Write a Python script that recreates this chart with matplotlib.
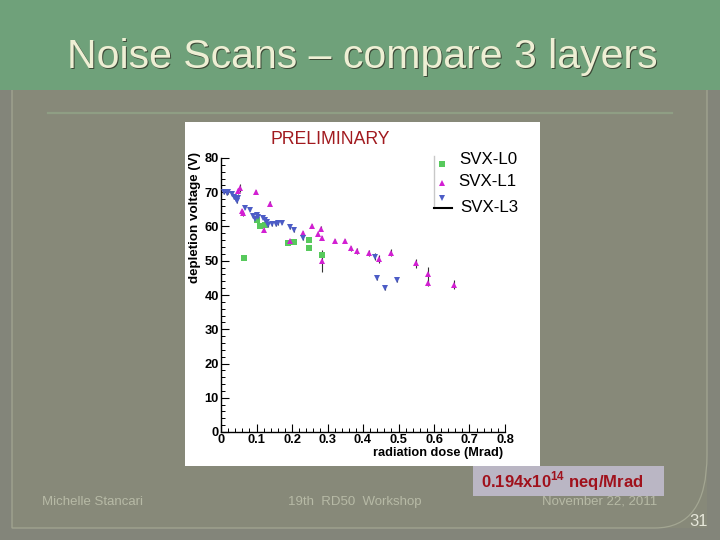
import matplotlib
matplotlib.use("Agg")
import matplotlib.pyplot as plt
from matplotlib import font_manager
from matplotlib.patches import Rectangle, PathPatch
from matplotlib.lines import Line2D
from matplotlib.path import Path
from matplotlib.ticker import MultipleLocator

# ---------------- data ----------------
l0_dose = [0.065, 0.100, 0.110, 0.125, 0.188, 0.206, 0.249, 0.249, 0.285]
l0_volt = [50.7, 62.0, 60.0, 60.5, 55.1, 55.4, 56.0, 53.6, 51.8]
l0_err = [0.5, 0.5, 0.5, 0.5, 0.5, 0.5, 0.5, 0.5, 0.6]

l1_dose = [0.049, 0.054, 0.058, 0.063, 0.099, 0.121, 0.138, 0.194, 0.232, 0.255,
           0.274, 0.283, 0.284, 0.285, 0.321, 0.349, 0.365, 0.382, 0.417, 0.445,
           0.478, 0.548, 0.582, 0.582, 0.656]
l1_volt = [70.3, 71.3, 64.5, 63.8, 70.1, 58.9, 66.7, 55.8, 58.0, 60.1,
           57.7, 59.4, 56.7, 49.9, 55.8, 55.8, 53.6, 52.9, 52.3, 50.6,
           52.4, 49.2, 46.1, 43.5, 43.0]
l1_err = [0.8, 1.2, 0.6, 0.6, 0.6, 0.6, 0.6, 0.6, 0.6, 0.6,
          0.6, 0.6, 0.6, 3.1, 0.6, 0.6, 0.8, 0.8, 0.8, 1.2,
          1.0, 1.2, 2.2, 1.0, 1.3]

l3_dose = [0.009, 0.016, 0.020, 0.030, 0.037, 0.041, 0.044, 0.049, 0.068, 0.082,
           0.091, 0.096, 0.100, 0.105, 0.119, 0.124, 0.129, 0.133, 0.145, 0.154,
           0.161, 0.171, 0.194, 0.207, 0.232, 0.434, 0.439, 0.462, 0.497]
l3_volt = [70.1, 69.8, 70.1, 69.4, 68.6, 68.0, 67.5, 68.4, 65.5, 64.9,
           63.0, 62.3, 63.3, 62.8, 62.6, 61.8, 61.4, 60.4, 60.7, 60.7,
           60.9, 61.1, 59.9, 58.9, 56.5, 51.2, 44.9, 41.9, 44.4]
l3_err = [0.5] * 25 + [1.0, 0.5, 0.5, 0.5]

series_names = ["SVX-L0", "SVX-L1", "SVX-L3"]
x_ticks = [0, 0.1, 0.2, 0.3, 0.4, 0.5, 0.6, 0.7, 0.8]
y_ticks = [0, 10, 20, 30, 40, 50, 60, 70, 80]

# ---------------- fonts ----------------
plt.rcParams['font.family'] = ['Liberation Sans', 'DejaVu Sans']

W, H = 720, 540
fig = plt.figure(figsize=(7.2, 5.4), dpi=100)
fig.patch.set_facecolor('#83857a')

def fx(px):
    return px / W

def fy(py):
    return 1 - py / H

def frect(x0, y0, x1, y1, **kw):
    r = Rectangle((fx(x0), fy(y1)), fx(x1) - fx(x0), fy(y0) - fy(y1),
                  transform=fig.transFigure, **kw)
    fig.add_artist(r)
    return r

def fline(xs, ys, **kw):
    fig.add_artist(Line2D([fx(v) for v in xs], [fy(v) for v in ys],
                          transform=fig.transFigure, **kw))

# slide body and header
frect(12, 90, 707, 528, facecolor='#878979', edgecolor='none', zorder=0)
frect(0, 0, 720, 90, facecolor='#6fa17a', edgecolor='none', zorder=0)

# frame with rounded bottom-right corner
verts = [(fx(12), fy(90)), (fx(12), fy(528)), (fx(655), fy(528)),
         (fx(707), fy(528)), (fx(707), fy(455)), (fx(707), fy(90))]
codes = [Path.MOVETO, Path.LINETO, Path.LINETO, Path.CURVE3, Path.CURVE3, Path.LINETO]
fig.add_artist(PathPatch(Path(verts, codes), transform=fig.transFigure,
                         facecolor='none', edgecolor='#a3a692', lw=0.9, zorder=1))

# separator line under header
fline([48, 672], [113, 113], color='#8f9e84', lw=1.6, zorder=1)

# title with shadow
title = "Noise Scans \u2013 compare 3 layers"
fig.text(fx(363.5), fy(69), title, fontsize=29.5, color='#3d4a38',
         ha='center', va='baseline', zorder=2)
fig.text(fx(362), fy(67.5), title, fontsize=29.5, color='#eeefd4',
         ha='center', va='baseline', zorder=3)

# chart white picture
frect(185, 122, 540, 466, facecolor='white', edgecolor='none', zorder=1)

# ---------------- axes ----------------
ax = fig.add_axes([fx(221), fy(432), fx(505) - fx(221), fy(158) - fy(432)])
ax.set_facecolor('none')
ax.set_zorder(5)
ax.set_xlim(0, 0.8)
ax.set_ylim(0, 80)
for s in ['top', 'right']:
    ax.spines[s].set_visible(False)
for s in ['left', 'bottom']:
    ax.spines[s].set_linewidth(1.0)
    ax.spines[s].set_color('black')
ax.set_xticks(x_ticks)
ax.set_yticks(y_ticks)
ax.set_xticklabels([f"{v:g}" for v in x_ticks])
ax.set_yticklabels([f"{v:g}" for v in y_ticks])
ax.xaxis.set_minor_locator(MultipleLocator(0.02))
ax.yaxis.set_minor_locator(MultipleLocator(2))
ax.tick_params(which='major', direction='in', length=5.5, width=0.8, labelsize=9.3, pad=1.5)
ax.tick_params(which='minor', direction='in', length=2.8, width=0.7)
for lab in ax.get_xticklabels() + ax.get_yticklabels():
    lab.set_fontweight('bold')

colors = ['#57c95c', '#d21fd2', '#4c5cc6']
markers = ['s', '^', 'v']
data = [(l0_dose, l0_volt, l0_err), (l1_dose, l1_volt, l1_err), (l3_dose, l3_volt, l3_err)]
for (xs, ys, es), c, m in zip(data, colors, markers):
    ax.errorbar(xs, ys, yerr=es, fmt='none', ecolor='#333333', elinewidth=0.8, capsize=0, zorder=2)
for (xs, ys, es), c, m in zip(data, colors, markers):
    ax.plot(xs, ys, linestyle='none', marker=m, markersize=5.0, color=c,
            markeredgewidth=0, zorder=3)

fig.text(fx(195), fy(152), "depletion voltage (V)", rotation=90, fontsize=9.6,
         fontweight='bold', ha='center', va='top', zorder=6)
fig.text(fx(503), fy(453), "radiation dose (Mrad)", fontsize=9.2,
         fontweight='bold', ha='right', va='center', zorder=6)

fig.text(fx(330), fy(140), "PRELIMINARY", fontsize=12.7, color='#a11a1f',
         ha='center', va='center', zorder=6)

# legend
fline([434, 434], [156, 208], color='#c8c8c8', lw=1.0, zorder=6)
fline([434, 452], [208, 208], color='black', lw=1.5, zorder=6)
leg_y_mark = [164, 183, 198]
leg_y_text = [159, 182, 207]
leg_x_text = [459, 458, 460]
for name, c, m, ym, yt, xt in zip(series_names, colors, markers, leg_y_mark, leg_y_text, leg_x_text):
    fig.add_artist(Line2D([fx(442)], [fy(ym)], marker=m, markersize=4, color=c,
                          markeredgewidth=0, linestyle='none',
                          transform=fig.transFigure, zorder=6))
    fig.text(fx(xt), fy(yt), name, fontsize=12.2, color='black', ha='left',
             va='center', zorder=6)

# fluence conversion box
frect(473, 466, 664, 496, facecolor='#bab6c4', edgecolor='none', zorder=2)
fig.text(fx(481), fy(481), r"0.194x10$^{\mathregular{14}}$ neq/Mrad", fontsize=12,
         fontweight='bold', color='#a0111c', ha='left', va='center', zorder=3)

# footer
foot_col = '#b7baa6'
fig.text(fx(42), fy(502), "Michelle Stancari", fontsize=9.5, color=foot_col,
         ha='left', va='center', zorder=3)
fig.text(fx(288), fy(502), "19th  RD50  Workshop", fontsize=9.5, color=foot_col,
         ha='left', va='center', zorder=3)
fig.text(fx(542), fy(502), "November 22, 2011", fontsize=9.5, color=foot_col,
         ha='left', va='center', zorder=3)
fig.text(fx(708), fy(522), "31", fontsize=12, color='#e6e7da',
         ha='right', va='center', zorder=3)

fig.savefig("out.png", dpi=100, facecolor=fig.get_facecolor())
